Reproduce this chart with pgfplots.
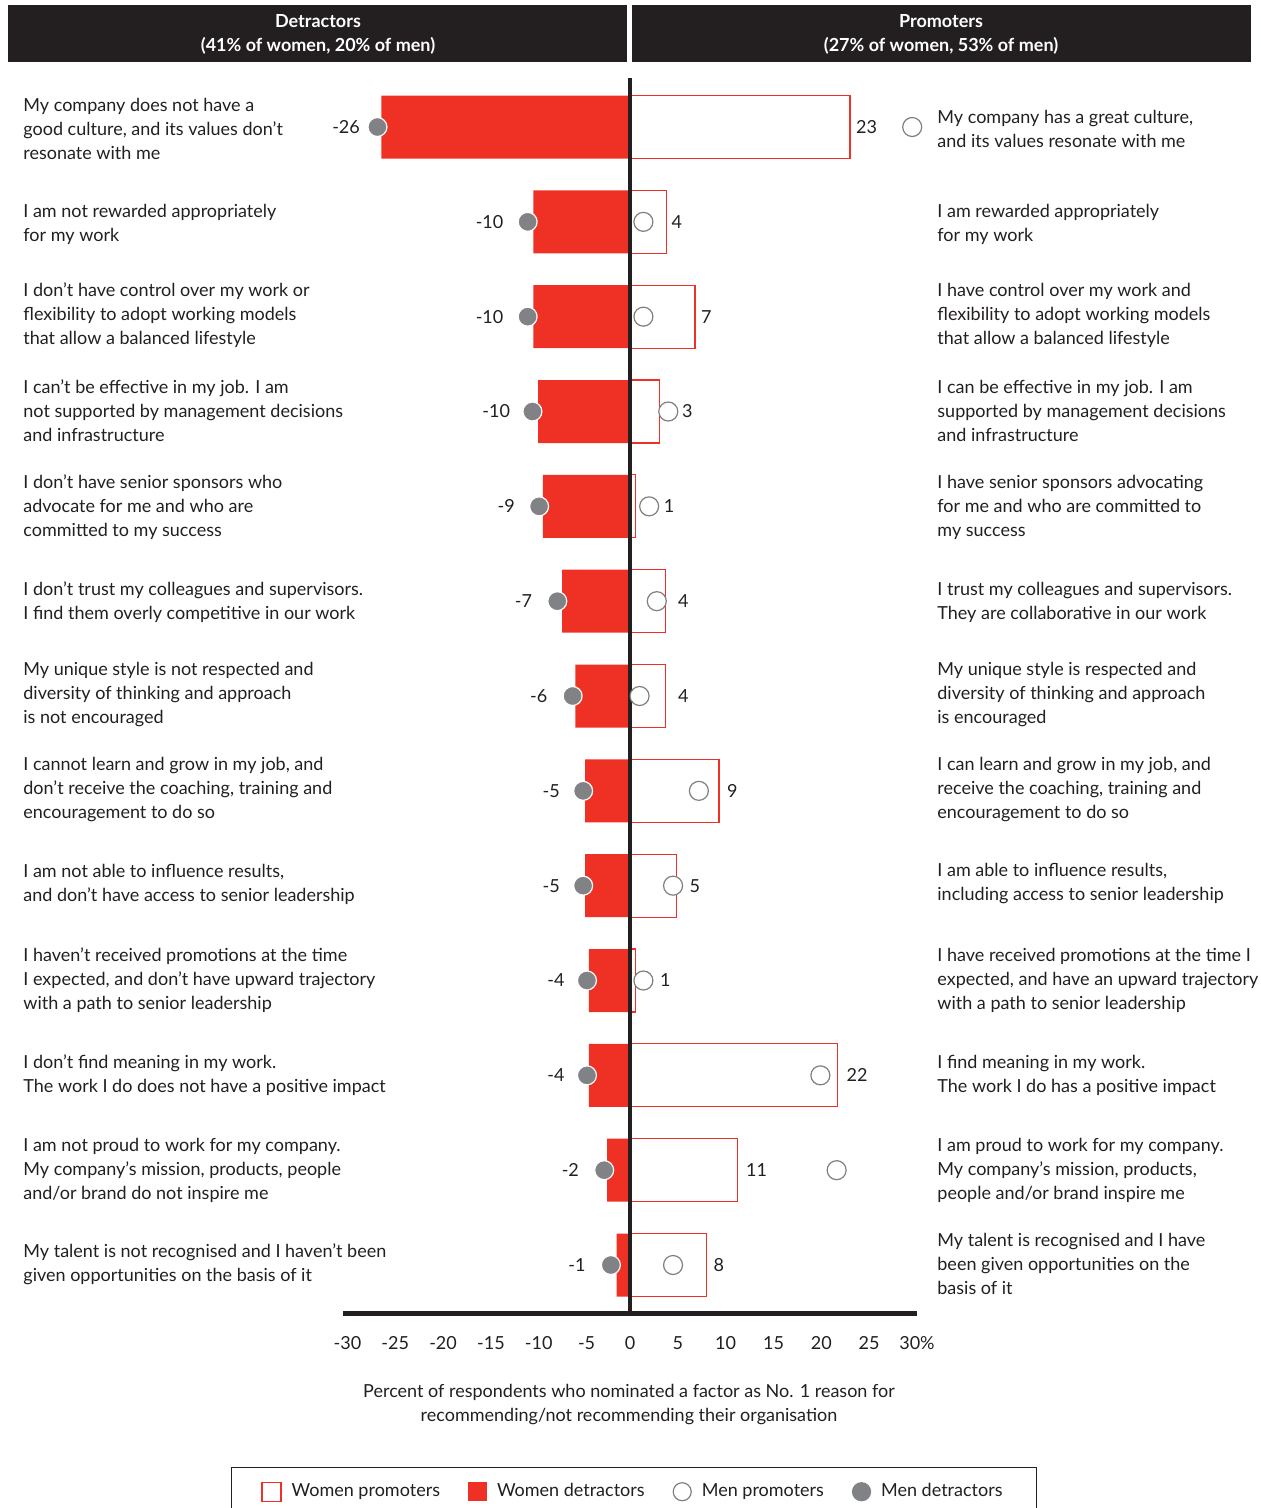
\documentclass[border=0pt]{standalone}
\usepackage{fontspec}
\setmainfont{Lato}
\usepackage{pgfplots}
\usepackage{pgfplotstable}
\pgfplotsset{compat=1.18}
\definecolor{ink}{HTML}{231F20}
\definecolor{myred}{HTML}{EE3124}
\definecolor{mgrey}{HTML}{808285}
\definecolor{cgrey}{HTML}{7F7F7F}
\newcommand{\lab}{\fontsize{9}{12}\selectfont}

% y = 14 - row number (row 1 at the top)
\pgfplotstableread{
y   wd     md     wp    mp
13  -26.0  -26.4  23.0  29.5
12  -10.1  -10.7  3.8   1.4
11  -10.1  -10.7  6.8   1.4
10  -9.6   -10.2  3.1   4.0
9   -9.1   -9.5   0.6   2.0
8   -7.1   -7.6   3.7   2.8
7   -5.7   -6.0   3.7   1.0
6   -4.7   -4.9   9.3   7.2
5   -4.7   -4.9   4.9   4.5
4   -4.3   -4.5   0.6   1.4
3   -4.3   -4.5   21.7  19.9
2   -2.4   -2.7   11.2  21.6
1   -1.4   -2.0   8.0   4.5
}\data

\begin{document}
\begin{tikzpicture}
\begin{axis}[
  at={(171.5pt,97.5pt)}, anchor=south west,
  scale only axis, width=287pt, height=617.5pt,
  xmin=-30, xmax=30, ymin=0.494, ymax=13.517,
  axis x line*=bottom, axis y line=none,
  x axis line style={line width=2.5pt, ink},
  xtick={0,5,...,30},
  xticklabels={0,5,10,15,20,25,30\%},
  extra x ticks={-30,-25,...,-5},
  extra x tick labels={-30,-25,-20,-15,-10,-5},
  extra x tick style={xticklabel style={xshift=2.2pt}},
  ytick=\empty,
  major tick length=0pt,
  xticklabel style={anchor=base, yshift=-18.25pt, font=\lab, text=ink},
  clip=false,
  legend columns=4,
  legend cell align=left,
  legend style={at={(0.507,-0.1247)}, anchor=north, draw=ink, line width=0.6pt,
    font=\lab, text=ink, inner xsep=15pt, inner ysep=6pt,
    /tikz/every even column/.append style={column sep=12pt}},
]
\addplot[xbar, bar width=31.5pt, bar shift=0pt, draw=myred, fill=white, line width=0.6pt,
  legend image code/.code={\draw[myred, fill=white, line width=0.6pt] (0pt,-4.75pt) rectangle (9.5pt,4.75pt);\path (12.5pt,0pt);}]
  table[x=wp, y=y]{\data};
\addlegendentry{Women promoters}
\addplot[xbar, bar width=31.5pt, bar shift=0pt, draw=none, fill=myred,
  legend image code/.code={\fill[myred] (0pt,-4.75pt) rectangle (9.5pt,4.75pt);\path (12.5pt,0pt);}]
  table[x=wd, y=y]{\data};
\addlegendentry{Women detractors}
\addplot[ink, line width=2pt, forget plot] coordinates {(0,0.494) (0,13.517)};
\addplot[only marks, mark=*, mark size=4.75pt, mark options={fill=white, draw=cgrey, line width=0.6pt},
  legend image code/.code={\draw[fill=white, draw=cgrey, line width=0.6pt] (4.5pt,0pt) circle (4.5pt);\path (12pt,0pt);}]
  table[x=mp, y=y]{\data};
\addlegendentry{Men promoters}
\addplot[only marks, mark=*, mark size=4.75pt, mark options={fill=mgrey, draw=white, line width=0.6pt},
  legend image code/.code={\fill[mgrey] (4.5pt,0pt) circle (4.5pt);\path (12pt,0pt);}]
  table[x=md, y=y]{\data};
\addlegendentry{Men detractors}

% value labels, detractors (left of the dots)
\begin{scope}[every node/.style={anchor=east, inner sep=0pt, font=\lab, text=ink}]
\node at (axis cs:-28.2,13) {-26};
\node at (axis cs:-13.2,12) {-10};
\node at (axis cs:-13.2,11) {-10};
\node at (axis cs:-12.5,10) {-10};
\node at (axis cs:-12.0,9) {-9};
\node at (axis cs:-10.2,8) {-7};
\node at (axis cs:-8.6,7) {-6};
\node at (axis cs:-7.3,6) {-5};
\node at (axis cs:-7.3,5) {-5};
\node at (axis cs:-6.8,4) {-4};
\node at (axis cs:-6.8,3) {-4};
\node at (axis cs:-5.3,2) {-2};
\node at (axis cs:-4.6,1) {-1};
\end{scope}
% value labels, promoters
\begin{scope}[every node/.style={anchor=west, inner sep=0pt, font=\lab, text=ink}]
\node at (axis cs:23.6,13) {23};
\node at (axis cs:4.3,12) {4};
\node at (axis cs:7.4,11) {7};
\node at (axis cs:5.4,10) {3};
\node at (axis cs:3.5,9) {1};
\node at (axis cs:5.0,8) {4};
\node at (axis cs:5.0,7) {4};
\node at (axis cs:10.1,6) {9};
\node at (axis cs:6.2,5) {5};
\node at (axis cs:3.1,4) {1};
\node at (axis cs:22.6,3) {22};
\node at (axis cs:12.1,2) {11};
\node at (axis cs:8.7,1) {8};
\end{scope}
\end{axis}

\begin{scope}[shift={(0pt,754pt)}, x=0.5pt, y=-0.5pt]
\fill[ink] (8,5) rectangle (627,62);
\fill[ink] (632,5) rectangle (1251,62);
\node[text=white, font=\bfseries\fontsize{9}{12}\selectfont, align=center] at (318,34) {Detractors\\(41\% of women, 20\% of men)};
\node[text=white, font=\bfseries\fontsize{9}{12}\selectfont, align=center] at (941,34) {Promoters\\(27\% of women, 53\% of men)};

\begin{scope}[every node/.style={anchor=west, align=left, inner sep=0pt, font=\lab, text=ink}]
\node at (23,129) {My company does not have a\\good culture, and its values don’t\\resonate with me};
\node at (23,224) {I am not rewarded appropriately\\for my work};
\node at (23,315) {I don’t have control over my work or\\flexibility to adopt working models\\that allow a balanced lifestyle};
\node at (23,411) {I can’t be effective in my job. I am\\not supported by management decisions\\and infrastructure};
\node at (23,507) {I don’t have senior sponsors who\\advocate for me and who are\\committed to my success};
\node at (23,602) {I don’t trust my colleagues and supervisors.\\I find them overly competitive in our work};
\node at (23,695) {My unique style is not respected and\\diversity of thinking and approach\\is not encouraged};
\node at (23,790) {I cannot learn and grow in my job, and\\don’t receive the coaching, training and\\encouragement to do so};
\node at (23,884) {I am not able to influence results,\\and don’t have access to senior leadership};
\node at (23,980) {I haven’t received promotions at the time\\I expected, and don’t have upward trajectory\\with a path to senior leadership};
\node at (23,1075) {I don’t find meaning in my work.\\The work I do does not have a positive impact};
\node at (23,1170) {I am not proud to work for my company.\\My company’s mission, products, people\\and/or brand do not inspire me};
\node at (23,1264) {My talent is not recognised and I haven’t been\\given opportunities on the basis of it};

\node at (937,129) {My company has a great culture,\\and its values resonate with me};
\node at (937,224) {I am rewarded appropriately\\for my work};
\node at (937,315) {I have control over my work and\\flexibility to adopt working models\\that allow a balanced lifestyle};
\node at (937,411) {I can be effective in my job. I am\\supported by management decisions\\and infrastructure};
\node at (937,507) {I have senior sponsors advocating\\for me and who are committed to\\my success};
\node at (937,602) {I trust my colleagues and supervisors.\\They are collaborative in our work};
\node at (937,695) {My unique style is respected and\\diversity of thinking and approach\\is encouraged};
\node at (937,790) {I can learn and grow in my job, and\\receive the coaching, training and\\encouragement to do so};
\node at (937,884) {I am able to influence results,\\including access to senior leadership};
\node at (937,980) {I have received promotions at the time I\\expected, and have an upward trajectory\\with a path to senior leadership};
\node at (937,1075) {I find meaning in my work.\\The work I do has a positive impact};
\node at (937,1170) {I am proud to work for my company.\\My company’s mission, products,\\people and/or brand inspire me};
\node at (937,1264) {My talent is recognised and I have\\been given opportunities on the\\basis of it};
\end{scope}

\node[align=center, inner sep=0pt, font=\lab, text=ink] at (629,1405) {Percent of respondents who nominated a factor as No. 1 reason for\\recommending/not recommending their organisation};

\pgfresetboundingbox
\useasboundingbox (0,0) rectangle (1260,1508);
\end{scope}
\end{tikzpicture}
\end{document}
